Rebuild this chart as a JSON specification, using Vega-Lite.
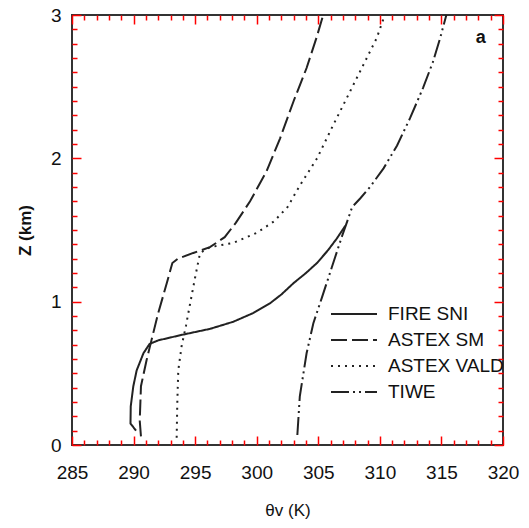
{
  "$schema": "https://vega.github.io/schema/vega-lite/v6.json",
  "width": 431,
  "height": 430,
  "autosize": {"type": "none"},
  "padding": {"left": 72, "top": 15, "right": 26, "bottom": 83},
  "background": "white",
  "config": {
    "view": {"stroke": "#333", "strokeWidth": 2},
    "font": "Liberation Sans",
    "axis": {"domain": false, "grid": false, "ticks": true, "tickColor": "red", "tickWidth": 1.5, "tickOpacity": 1, "labelColor": "#111", "titleColor": "#111"}
  },
  "data": {"values": [
    {"s": "FIRE SNI", "o": 1, "t": 290.2, "z": 0.10},
    {"s": "FIRE SNI", "o": 2, "t": 289.75, "z": 0.15},
    {"s": "FIRE SNI", "o": 3, "t": 289.77, "z": 0.27},
    {"s": "FIRE SNI", "o": 4, "t": 289.98, "z": 0.41},
    {"s": "FIRE SNI", "o": 5, "t": 290.25, "z": 0.52},
    {"s": "FIRE SNI", "o": 6, "t": 290.8, "z": 0.64},
    {"s": "FIRE SNI", "o": 7, "t": 291.3, "z": 0.705},
    {"s": "FIRE SNI", "o": 8, "t": 292.0, "z": 0.73},
    {"s": "FIRE SNI", "o": 9, "t": 294.0, "z": 0.77},
    {"s": "FIRE SNI", "o": 10, "t": 296.2, "z": 0.81},
    {"s": "FIRE SNI", "o": 11, "t": 298.1, "z": 0.86},
    {"s": "FIRE SNI", "o": 12, "t": 299.7, "z": 0.92},
    {"s": "FIRE SNI", "o": 13, "t": 301.1, "z": 0.99},
    {"s": "FIRE SNI", "o": 14, "t": 302.0, "z": 1.05},
    {"s": "FIRE SNI", "o": 15, "t": 303.0, "z": 1.13},
    {"s": "FIRE SNI", "o": 16, "t": 304.0, "z": 1.20},
    {"s": "FIRE SNI", "o": 17, "t": 304.9, "z": 1.27},
    {"s": "FIRE SNI", "o": 18, "t": 305.8, "z": 1.36},
    {"s": "FIRE SNI", "o": 19, "t": 306.5, "z": 1.44},
    {"s": "FIRE SNI", "o": 20, "t": 307.2, "z": 1.53},
    {"s": "ASTEX SM", "o": 1, "t": 290.6, "z": 0.06},
    {"s": "ASTEX SM", "o": 2, "t": 290.5, "z": 0.17},
    {"s": "ASTEX SM", "o": 3, "t": 290.6, "z": 0.41},
    {"s": "ASTEX SM", "o": 4, "t": 291.05, "z": 0.59},
    {"s": "ASTEX SM", "o": 5, "t": 291.45, "z": 0.73},
    {"s": "ASTEX SM", "o": 6, "t": 292.0, "z": 0.92},
    {"s": "ASTEX SM", "o": 7, "t": 292.7, "z": 1.13},
    {"s": "ASTEX SM", "o": 8, "t": 293.15, "z": 1.27},
    {"s": "ASTEX SM", "o": 9, "t": 293.6, "z": 1.30},
    {"s": "ASTEX SM", "o": 10, "t": 294.85, "z": 1.34},
    {"s": "ASTEX SM", "o": 11, "t": 296.2, "z": 1.38},
    {"s": "ASTEX SM", "o": 12, "t": 297.4, "z": 1.45},
    {"s": "ASTEX SM", "o": 13, "t": 298.3, "z": 1.55},
    {"s": "ASTEX SM", "o": 14, "t": 299.46, "z": 1.70},
    {"s": "ASTEX SM", "o": 15, "t": 300.8, "z": 1.91},
    {"s": "ASTEX SM", "o": 16, "t": 301.9, "z": 2.14},
    {"s": "ASTEX SM", "o": 17, "t": 303.0, "z": 2.40},
    {"s": "ASTEX SM", "o": 18, "t": 304.05, "z": 2.63},
    {"s": "ASTEX SM", "o": 19, "t": 304.85, "z": 2.84},
    {"s": "ASTEX SM", "o": 20, "t": 305.4, "z": 3.0},
    {"s": "ASTEX VALD", "o": 1, "t": 293.5, "z": 0.05},
    {"s": "ASTEX VALD", "o": 2, "t": 293.55, "z": 0.29},
    {"s": "ASTEX VALD", "o": 3, "t": 293.63, "z": 0.52},
    {"s": "ASTEX VALD", "o": 4, "t": 293.9, "z": 0.69},
    {"s": "ASTEX VALD", "o": 5, "t": 294.25, "z": 0.83},
    {"s": "ASTEX VALD", "o": 6, "t": 294.6, "z": 0.99},
    {"s": "ASTEX VALD", "o": 7, "t": 295.0, "z": 1.17},
    {"s": "ASTEX VALD", "o": 8, "t": 295.4, "z": 1.34},
    {"s": "ASTEX VALD", "o": 9, "t": 296.2, "z": 1.38},
    {"s": "ASTEX VALD", "o": 10, "t": 298.1, "z": 1.41},
    {"s": "ASTEX VALD", "o": 11, "t": 300.0, "z": 1.48},
    {"s": "ASTEX VALD", "o": 12, "t": 301.4, "z": 1.56},
    {"s": "ASTEX VALD", "o": 13, "t": 302.5, "z": 1.66},
    {"s": "ASTEX VALD", "o": 14, "t": 303.5, "z": 1.81},
    {"s": "ASTEX VALD", "o": 15, "t": 304.9, "z": 2.0},
    {"s": "ASTEX VALD", "o": 16, "t": 306.2, "z": 2.23},
    {"s": "ASTEX VALD", "o": 17, "t": 307.6, "z": 2.47},
    {"s": "ASTEX VALD", "o": 18, "t": 308.65, "z": 2.65},
    {"s": "ASTEX VALD", "o": 19, "t": 309.75, "z": 2.84},
    {"s": "ASTEX VALD", "o": 20, "t": 310.4, "z": 3.0},
    {"s": "TIWE", "o": 1, "t": 303.3, "z": 0.07},
    {"s": "TIWE", "o": 2, "t": 303.5, "z": 0.34},
    {"s": "TIWE", "o": 3, "t": 304.05, "z": 0.64},
    {"s": "TIWE", "o": 4, "t": 304.6, "z": 0.85},
    {"s": "TIWE", "o": 5, "t": 305.3, "z": 1.03},
    {"s": "TIWE", "o": 6, "t": 306.1, "z": 1.24},
    {"s": "TIWE", "o": 7, "t": 306.9, "z": 1.45},
    {"s": "TIWE", "o": 8, "t": 307.35, "z": 1.56},
    {"s": "TIWE", "o": 9, "t": 307.75, "z": 1.66},
    {"s": "TIWE", "o": 10, "t": 308.4, "z": 1.72},
    {"s": "TIWE", "o": 11, "t": 309.2, "z": 1.80},
    {"s": "TIWE", "o": 12, "t": 310.3, "z": 1.93},
    {"s": "TIWE", "o": 13, "t": 311.4, "z": 2.09},
    {"s": "TIWE", "o": 14, "t": 312.45, "z": 2.28},
    {"s": "TIWE", "o": 15, "t": 313.5, "z": 2.49},
    {"s": "TIWE", "o": 16, "t": 314.3, "z": 2.67},
    {"s": "TIWE", "o": 17, "t": 314.9, "z": 2.84},
    {"s": "TIWE", "o": 18, "t": 315.4, "z": 3.0}
  ]},
  "resolve": {"axis": {"x": "independent", "y": "independent"}},
  "layer": [
    {
      "mark": {"type": "line", "strokeWidth": 2, "color": "#222"},
      "encoding": {
        "x": {"field": "t", "type": "quantitative",
          "scale": {"domain": [285, 320], "nice": false, "zero": false},
          "axis": {"orient": "bottom", "title": "θv (K)", "titleFontSize": 17, "titleFontWeight": "normal", "titlePadding": 20,
            "values": [285, 290, 295, 300, 305, 310, 315, 320],
            "tickSize": -9, "labelFontSize": 19, "labelPadding": 27, "labelFlush": false}},
        "y": {"field": "z", "type": "quantitative",
          "scale": {"domain": [0, 3], "nice": false},
          "axis": {"orient": "left", "title": "Z (km)", "titleFontSize": 17, "titleFontWeight": "bold", "titlePadding": 16,
            "values": [0, 1, 2, 3], "format": "d",
            "tickSize": -9, "labelFontSize": 19, "labelPadding": 20, "labelFlush": false}},
        "strokeDash": {"field": "s", "type": "nominal",
          "scale": {"domain": ["FIRE SNI", "ASTEX SM", "ASTEX VALD", "TIWE"], "range": [[1, 0], [16, 5], [2, 5], [18, 4, 2, 4, 2, 4]]},
          "legend": {"title": null, "orient": "none", "legendX": 258, "legendY": 287, "symbolType": "stroke", "symbolSize": 2116, "symbolStrokeWidth": 2, "symbolStrokeColor": "#222", "labelFontSize": 19, "labelColor": "#111", "labelOffset": 10, "clipHeight": 24, "rowPadding": 2}},
        "order": {"field": "o", "type": "quantitative"}
      }
    },
    {
      "mark": {"type": "line", "strokeOpacity": 0},
      "encoding": {
        "x": {"field": "t", "type": "quantitative",
          "axis": {"orient": "bottom", "title": null, "labels": false,
            "values": [286,287,288,289,291,292,293,294,296,297,298,299,301,302,303,304,306,307,308,309,311,312,313,314,316,317,318,319],
            "tickSize": -5}},
        "y": {"field": "z", "type": "quantitative",
          "axis": {"orient": "left", "title": null, "labels": false,
            "values": [0.1,0.2,0.3,0.4,0.5,0.6,0.7,0.8,0.9,1.1,1.2,1.3,1.4,1.5,1.6,1.7,1.8,1.9,2.1,2.2,2.3,2.4,2.5,2.6,2.7,2.8,2.9],
            "tickSize": -5}},
        "detail": {"field": "s"}
      }
    },
    {
      "mark": {"type": "line", "strokeOpacity": 0},
      "encoding": {
        "x": {"field": "t", "type": "quantitative",
          "axis": {"orient": "top", "title": null, "labels": false,
            "values": [285, 290, 295, 300, 305, 310, 315, 320],
            "tickSize": -9}},
        "y": {"field": "z", "type": "quantitative",
          "axis": {"orient": "right", "title": null, "labels": false,
            "values": [0, 1, 2, 3],
            "tickSize": -9}},
        "detail": {"field": "s"}
      }
    },
    {
      "mark": {"type": "line", "strokeOpacity": 0},
      "encoding": {
        "x": {"field": "t", "type": "quantitative",
          "axis": {"orient": "top", "title": null, "labels": false,
            "values": [286,287,288,289,291,292,293,294,296,297,298,299,301,302,303,304,306,307,308,309,311,312,313,314,316,317,318,319],
            "tickSize": -5}},
        "y": {"field": "z", "type": "quantitative",
          "axis": {"orient": "right", "title": null, "labels": false,
            "values": [0.1,0.2,0.3,0.4,0.5,0.6,0.7,0.8,0.9,1.1,1.2,1.3,1.4,1.5,1.6,1.7,1.8,1.9,2.1,2.2,2.3,2.4,2.5,2.6,2.7,2.8,2.9],
            "tickSize": -5}},
        "detail": {"field": "s"}
      }
    },
    {
      "data": {"values": [{"label": "a"}]},
      "mark": {"type": "text", "fontSize": 18, "fontWeight": "bold", "color": "#111", "align": "center", "baseline": "middle", "font": "Liberation Sans"},
      "encoding": {
        "x": {"datum": 318.2, "type": "quantitative", "axis": null},
        "y": {"datum": 2.84, "type": "quantitative", "axis": null},
        "text": {"field": "label"}
      }
    }
  ]
}
